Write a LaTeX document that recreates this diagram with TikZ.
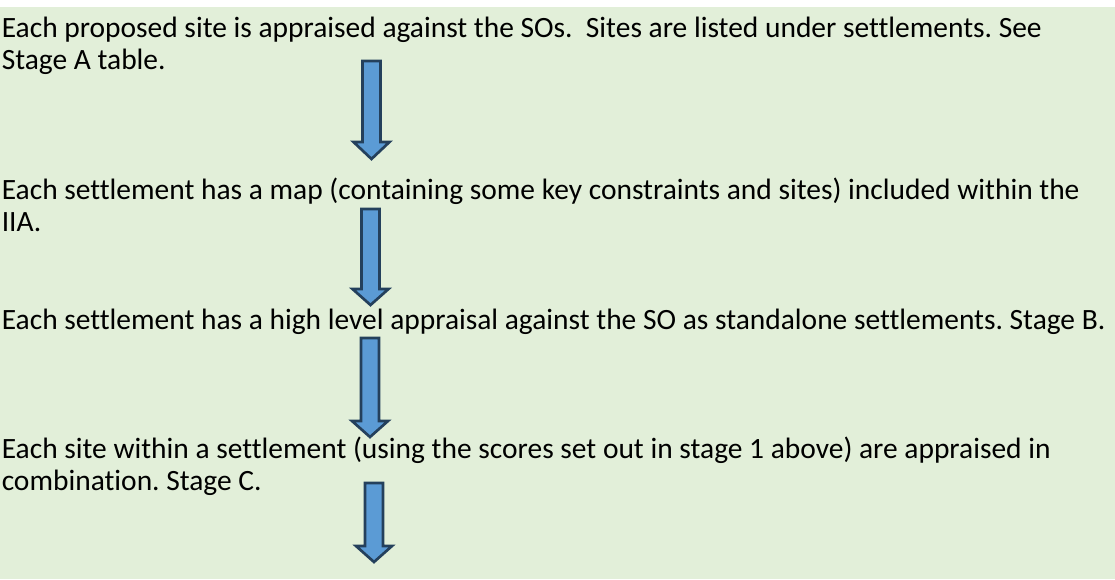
\documentclass[tikz,border=0pt]{standalone}
\usepackage{fontspec}
\setmainfont{Carlito}[Ligatures=NoCommon]
\definecolor{panelgreen}{HTML}{E2EFD9}
\definecolor{arrowfill}{HTML}{5B9BD5}
\definecolor{arrowedge}{HTML}{24405C}

\begin{document}
\frenchspacing
\begin{tikzpicture}[x=0.75pt,y=-0.75pt]
% Define common styles
\tikzset{
    stagetext/.style={anchor=base west, inner sep=0pt, font=\fontsize{22.1}{27}\selectfont},
    blockarrow/.style={draw=arrowedge, fill=arrowfill, line width=2pt, line join=miter}
}

% Panel
\useasboundingbox (0,0) rectangle (1115,579);
\fill[panelgreen] (0,7) rectangle (1115,579);

% Stage A
\node[stagetext] (siteA) at (1.5,37) {Each proposed site is appraised against the SOs.\ \ Sites are listed under settlements. See};
\node[stagetext] (siteAb) at (1.5,69) {Stage A table.};

\draw[blockarrow] (362.5,61) -- (380.5,61) -- (380.5,142) -- (389.5,142) -- (371.5,159) -- (353.5,142) -- (362.5,142) -- cycle;

% Settlement maps
\node[stagetext] (mapA) at (1.5,199) {Each settlement has a map (containing some key constraints and sites) included within the};
\node[stagetext] (mapAb) at (1.5,231) {IIA.};

\draw[blockarrow] (361.5,209) -- (379.5,209) -- (379.5,289) -- (388.5,289) -- (370.5,305) -- (352.5,289) -- (361.5,289) -- cycle;

% Stage B
\node[stagetext] (stageB) at (1.5,329) {Each settlement has a high level appraisal against the SO as standalone settlements. Stage B.};

\draw[blockarrow] (361,338) -- (379,338) -- (379,421) -- (388,421) -- (370,437) -- (352,421) -- (361,421) -- cycle;

% Stage C
\node[stagetext] (stageC) at (1.5,458) {Each site within a settlement (using the scores set out in stage 1 above) are appraised in};
\node[stagetext] (stageCb) at (1.5,490) {combination. Stage C.};

\draw[blockarrow] (365,483) -- (383,483) -- (383,546) -- (392,546) -- (374,562) -- (356,546) -- (365,546) -- cycle;

\end{tikzpicture}
\end{document}
